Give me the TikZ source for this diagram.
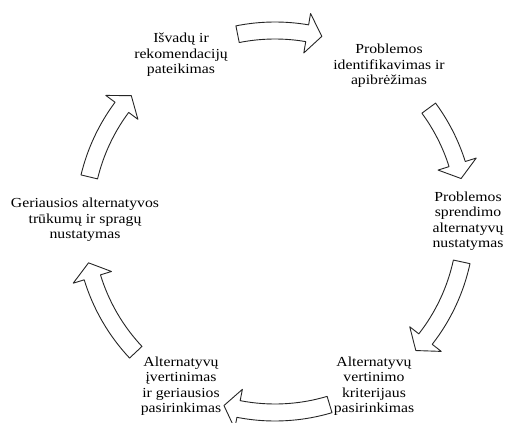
\documentclass[tikz,border=0pt]{standalone}
\usepackage{fontspec}
\setmainfont{Liberation Serif}[FakeStretch=1.14]
\begin{document}
\begin{tikzpicture}[x=1pt,y=1pt,
  steptext/.style={align=center, font=\fontsize{13.8}{15.5}\selectfont, inner sep=0pt},
  arrowline/.style={draw=black!85, line width=0.9pt, fill=white, line join=round}]
% radii of the curved block arrows (band and head)
\def\bandout{199.5}\def\bandin{182.5}\def\headout{211}\def\headin{171}\def\tipr{191}
\tikzset{
  pics/cyclearrow/.style 2 args={code={
    \draw[arrowline] (#1:\bandout) arc[start angle=#1, end angle=#2+4.5, radius=\bandout]
      -- (#2+4.5:\headout) -- (#2:\tipr) -- (#2+4.5:\headin) -- (#2+4.5:\bandin)
      arc[start angle=#2+4.5, end angle=#1, radius=\bandin] -- cycle;
  }}
}
\useasboundingbox (0,0) rectangle (506,423);
\clip (0,0) rectangle (506,423);
\fill[white] (0,0) rectangle (506,423);

% arrows around the cycle, clockwise
\coordinate (c) at (275,201.5);
\pic at (c) {cyclearrow={101.3}{75.8}};
\pic at (c) {cyclearrow={36.4}{13}};
\pic at (c) {cyclearrow={-12.2}{-42.5}};
\pic at (c) {cyclearrow={-73.4}{-105.5}};
\pic at (c) {cyclearrow={-136.8}{-167.5}};
\pic at (c) {cyclearrow={166.5}{138.8}};

% stages
\node[steptext] (s1) at (181,368) {Išvadų ir\\rekomendacijų\\pateikimas};
\node[steptext] (s2) at (389,357) {Problemos\\identifikavimas ir\\apibrėžimas};
\node[steptext] (s3) at (468,202) {Problemos\\sprendimo\\alternatyvų\\nustatymas};
\node[steptext] (s4) at (374,37) {Alternatyvų\\vertinimo\\kriterijaus\\pasirinkimas};
\node[steptext] (s5) at (181,37) {Alternatyvų\\įvertinimas\\ir geriausios\\pasirinkimas};
\node[steptext] (s6) at (85,203) {Geriausios alternatyvos\\trūkumų ir spragų\\nustatymas};
\end{tikzpicture}
\end{document}
